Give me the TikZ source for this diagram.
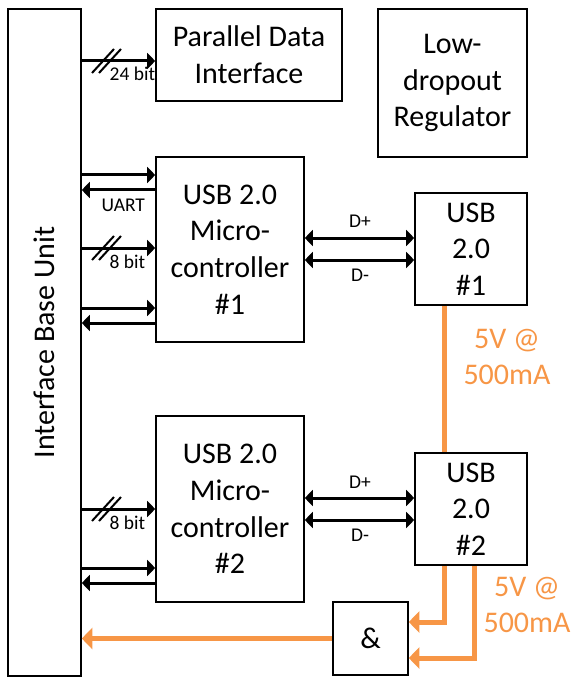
\documentclass[tikz,border=0pt]{standalone}
\usepackage{fontspec}
\setmainfont{Carlito}
\usetikzlibrary{arrows.meta}

\begin{document}
\begin{tikzpicture}[x=0.75pt,y=-0.75pt,
  bigtxt/.style={font=\fontsize{22.5}{27.5}\selectfont},
  smalltxt/.style={font=\fontsize{14.6}{17}\selectfont},
  blk/.style 2 args={draw,line width=1.2pt,minimum width=#1*0.75pt,minimum height=#2*0.75pt,inner sep=0pt,align=center,bigtxt},
  sig/.style={line width=2.25pt,-{Triangle[length=6pt,width=12pt]}},
  dsig/.style={line width=2.25pt,{Triangle[length=6pt,width=12pt]}-{Triangle[length=6pt,width=12pt]}},
  slash/.style={line width=1.5pt},
  pwr/.style={line width=3.75pt,draw=pwrorange},
  pwrarr/.style={pwr,-{Triangle[length=8pt,width=16pt]}}]
\definecolor{pwrorange}{HTML}{F79646}
\useasboundingbox (0,0) rectangle (575,677);
% boxes
\node[blk={73}{667},label={[rotate=90,bigtxt]center:Interface Base Unit}] (base) at (44.5,342.5) {};
\node[blk={186}{92}] (pdi) at (249,55) {Parallel Data\\Interface};
\node[blk={149}{148}] (ldo) at (452.5,83) {Low-\\dropout\\Regulator};
\node[blk={148}{185}] (mcu1) at (230,249.5) {USB 2.0\\Micro-\\controller\\\#1};
\node[blk={112}{112}] (usb1) at (471,249) {USB\\2.0\\\#1};
\node[blk={148}{186}] (mcu2) at (230,509) {USB 2.0\\Micro-\\controller\\\#2};
\node[blk={112}{112}] (usb2) at (471,509) {USB\\2.0\\\#2};
\node[blk={75}{73}] (and) at (370.5,638.5) {\&};
% base unit <-> controllers
\draw[sig] (base.east |- 0,61) -- (pdi.west |- 0,61);
\foreach \y in {175,248,308}
  \draw[sig] (base.east |- 0,\y) -- (mcu1.west |- 0,\y);
\foreach \y in {190,323}
  \draw[sig] (mcu1.west |- 0,\y) -- (base.east |- 0,\y);
\foreach \y in {509,568}
  \draw[sig] (base.east |- 0,\y) -- (mcu2.west |- 0,\y);
\draw[sig] (mcu2.west |- 0,583) -- (base.east |- 0,583);
\node[smalltxt,anchor=base west] (uart) at (97,211) {UART};
% bus widths
\foreach \y/\w in {61/24,248/8,509/8}
{ \draw[slash] (92,\y+12) -- ++(22,-24) (99,\y+12) -- ++(22,-24);
  \node[smalltxt,anchor=base west] at (105,\y+20) {\w\ bit};}
% data lines
\foreach \m/\u/\y in {mcu1/usb1/238,mcu2/usb2/498}
{ \draw[dsig] (\m.east |- 0,\y) -- (\u.west |- 0,\y);
  \draw[dsig] (\m.east |- 0,\y+22) -- (\u.west |- 0,\y+22);
  \node[smalltxt,anchor=base] at (360,\y-10) {D+};
  \node[smalltxt,anchor=base] at (360,\y+43) {D-};}
% power
\draw[pwr] (usb1.south -| 444,0) -- (usb2.north -| 444,0);
\draw[pwrarr] (usb2.south -| 444,0) |- (and.east |- 0,622);
\draw[pwrarr] (usb2.south -| 474,0) |- (and.east |- 0,658);
\draw[pwrarr] (and.west) -- (base.east |- and.west);
\node[bigtxt,text=pwrorange,align=center] (pwr1) at (507,357) {5V @\\500mA};
\node[bigtxt,text=pwrorange,align=center] (pwr2) at (527,605) {5V @\\500mA};
\end{tikzpicture}
\end{document}
